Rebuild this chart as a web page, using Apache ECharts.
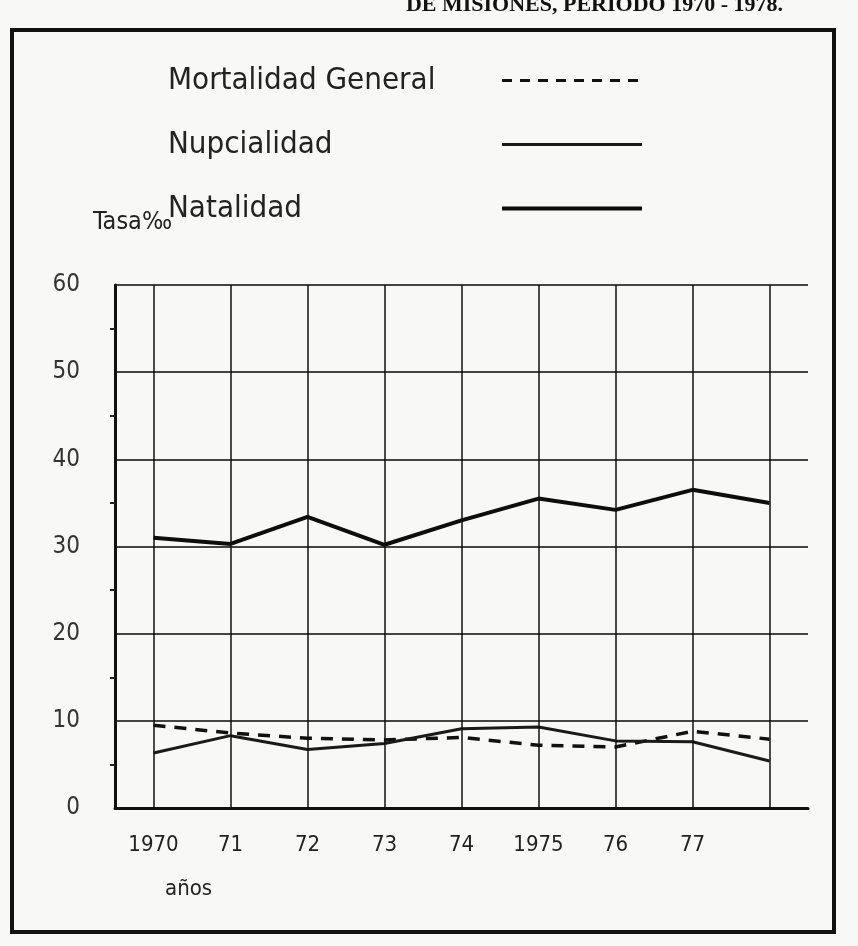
<!DOCTYPE html>
<html>
<head>
<meta charset="utf-8">
<script src="https://cdn.jsdelivr.net/npm/echarts@6/dist/echarts.min.js"></script>
<style>
  html, body { margin: 0; padding: 0; background: #f8f8f6; }
  #chart { width: 858px; height: 946px; }
</style>
</head>
<body>
<div id="chart"></div>
<script>
// años y etiquetas del eje
var years = ['1970', '1971', '1972', '1973', '1974', '1975', '1976', '1977', '1978'];
var yearLabels = ['1970', '71', '72', '73', '74', '1975', '76', '77', ''];

// tasas por mil
var mortalidad = [9.5, 8.6, 8.0, 7.8, 8.1, 7.2, 7.0, 8.8, 7.9];
var nupcialidad = [6.3, 8.3, 6.7, 7.4, 9.1, 9.3, 7.7, 7.6, 5.4];
var natalidad = [31.0, 30.3, 33.4, 30.2, 33.0, 35.5, 34.2, 36.5, 35.0];

var yTicks = [0, 10, 20, 30, 40, 50, 60];

var font = '"DejaVu Sans Condensed", "DejaVu Sans", sans-serif';

var chart = echarts.init(document.getElementById('chart'));

chart.setOption({
  backgroundColor: '#f8f8f6',
  animation: false,
  title: [
    {
      text: 'DE MISIONES, PERIODO 1970 - 1978.',
      right: 70,
      top: -11,
      textStyle: { fontFamily: '"Liberation Serif", serif', fontWeight: 'bold', fontSize: 22, color: '#111' }
    },
    {
      text: 'Tasa‰',
      left: 88,
      top: 205,
      textStyle: { fontFamily: font, fontWeight: 'normal', fontSize: 25, color: '#222' }
    },
    {
      text: 'años',
      left: 160,
      top: 873,
      textStyle: { fontFamily: font, fontWeight: 'normal', fontSize: 22, color: '#222' }
    }
  ],
  graphic: [
    {
      type: 'rect',
      shape: { x: 12, y: 30, width: 822, height: 902 },
      style: { fill: 'none', stroke: '#111', lineWidth: 4 },
      silent: true
    }
  ],
  legend: {
    orient: 'vertical',
    left: 163,
    top: 60,
    align: 'right',
    itemWidth: 140,
    itemHeight: 20,
    itemGap: 33,
    itemStyle: { opacity: 0 },
    data: [
      { name: 'Mortalidad General', lineStyle: { width: 3, type: [10, 8] } },
      { name: 'Nupcialidad', lineStyle: { width: 3 } },
      { name: 'Natalidad', lineStyle: { width: 4 } }
    ],
    formatter: '{a|{name}}',
    textStyle: {
      rich: {
        a: { width: 329, align: 'left', fontFamily: font, fontSize: 31, color: '#222', lineHeight: 38 }
      }
    }
  },
  grid: {
    left: 115,
    right: 50,
    top: 285,
    bottom: 138
  },
  xAxis: {
    type: 'category',
    data: years,
    boundaryGap: true,
    axisLine: { lineStyle: { color: '#111', width: 3 } },
    axisTick: { show: false },
    splitLine: { show: false },
    axisLabel: {
      margin: 26,
      fontFamily: font,
      fontSize: 22,
      color: '#222',
      formatter: function (v, i) { return yearLabels[i]; }
    }
  },
  yAxis: {
    type: 'value',
    min: yTicks[0],
    max: yTicks[yTicks.length - 1],
    interval: 10,
    axisLine: { show: true, lineStyle: { color: '#111', width: 3 } },
    axisTick: { show: false },
    minorTick: { show: true, splitNumber: 2, length: 5, lineStyle: { color: '#222', width: 2 } },
    splitLine: { lineStyle: { color: '#444', width: 2 } },
    axisLabel: { margin: 35, fontFamily: font, fontSize: 24, color: '#333' }
  },
  series: [
    {
      name: 'Mortalidad General',
      type: 'line',
      data: mortalidad,
      symbol: 'none',
      lineStyle: { color: '#111', width: 3.5, type: [12, 9] },
      itemStyle: { color: '#111' },
      z: 3
    },
    {
      name: 'Nupcialidad',
      type: 'line',
      data: nupcialidad,
      symbol: 'none',
      lineStyle: { color: '#1a1a1a', width: 3 },
      itemStyle: { color: '#1a1a1a' },
      z: 3,
      markLine: {
        silent: true,
        symbol: ['none', 'none'],
        label: { show: false },
        lineStyle: { color: '#111', width: 1.5, type: 'solid' },
        data: years.map(function (y) { return { xAxis: y }; })
      }
    },
    {
      name: 'Natalidad',
      type: 'line',
      data: natalidad,
      symbol: 'none',
      lineStyle: { color: '#0d0d0d', width: 4 },
      itemStyle: { color: '#0d0d0d' },
      z: 3
    }
  ]
});
</script>
</body>
</html>
